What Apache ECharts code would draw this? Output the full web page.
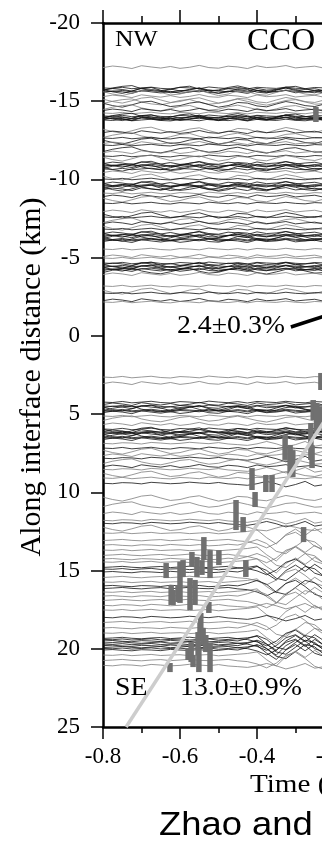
<!DOCTYPE html>
<html><head><meta charset="utf-8">
<script src="https://cdn.jsdelivr.net/npm/echarts@6.0.0/dist/echarts.min.js"></script>
<style>html,body{margin:0;padding:0;background:#fff}#c{width:322px;height:843px}</style>
</head><body><div id="c"></div><script>
// ---- data ----
const xTickLabels = ['-0.8','-0.6','-0.4','-0.2','0'];
const yTickLabels = ['-20','-15','-10','-5','0','5','10','15','20','25'];
const xGrid = [-0.8,-0.775,-0.75,-0.725,-0.7,-0.675,-0.65,-0.625,-0.6,-0.575,-0.55,-0.525,-0.5,-0.475,-0.45,-0.425,-0.4,-0.375,-0.35,-0.325,-0.3,-0.275,-0.25,-0.225,-0.2];
// wiggle offsets (km)
const wiggleA = [0,0.03,-0.04,0.05,0,-0.05,0.03,0.06,-0.03,0,0.05,-0.06,0,0.04,-0.03,0.06,-0.04,0,0.03,-0.05,0.02,0.05,-0.03,0,0.04];
const wiggleB = [0.04,-0.06,0,0.1,-0.08,0,0.07,-0.03,0.09,0.02,-0.1,0.04,0.08,-0.05,0,0.1,-0.07,0.04,0,-0.09,0.06,0,-0.05,0.08,0];
const wiggleC = [-0.05,0.1,0.2,0.05,-0.12,-0.18,0,0.16,0.1,-0.06,-0.14,0.04,0.2,0.1,-0.1,-0.06,0.12,0.18,0,-0.16,-0.05,0.1,0.16,0,-0.12];
const wiggleD = [0.1,-0.05,-0.15,-0.2,0,0.12,0.18,0.05,-0.1,-0.16,0.02,0.14,0.08,-0.08,-0.18,-0.04,0.1,0.2,0.06,-0.1,-0.15,0,0.14,0.1,-0.05];
const wiggleE = [0,0.02,-0.03,0.04,0,-0.04,0.03,0,-0.02,0.04,0,-0.03,0.05,0,-0.05,-0.1,-0.2,0.3,0.7,0.1,-0.25,0.15,-0.3,0.1,0.3];
const wiggleF = [0.03,0,-0.04,0.02,0.05,0,-0.03,0.04,0,-0.05,0.02,0.04,0,-0.04,0.05,0.1,0.25,0.5,0.2,-0.3,-0.5,-0.1,0.4,0.6,0.1];
const wiggleG = [0,-0.03,0.02,0.05,-0.02,0,0.04,-0.04,0,0.03,-0.03,0.05,0.02,-0.05,0,-0.15,-0.35,-0.1,0.4,0.55,0.1,-0.35,-0.2,0.3,0.5];
const wiggleH = [0.02,0.05,-0.02,0,0.06,-0.04,0,0.05,0.02,-0.05,0,0.04,-0.03,0.06,0.1,0.15,0.05,-0.1,0.05,0.25,0.1,-0.1,0.2,0.1,-0.15];
// traces: [distance km, wiggle, tone]
const traces = [
 [-17.19,'B','g'],
 [-15.85,'A','k'],[-15.8,'D','k'],[-15.75,'B','k'],[-15.7,'C','k'],[-15.65,'A','k'],[-15.6,'B','k'],[-15.56,'C','g'],
 [-15.33,'B','g'],
 [-15.08,'C','g'],[-14.95,'D','g'],[-14.82,'C','k'],
 [-14.57,'D','g'],[-14.44,'B','k'],[-14.25,'A','g'],
 [-14.06,'A','k'],[-14.03,'D','k'],[-14.0,'B','k'],[-13.96,'C','k'],[-13.93,'A','k'],[-13.89,'B','k'],[-13.86,'B','k'],[-13.8,'A','k'],
 [-13.16,'C','g'],[-13.03,'B','k'],
 [-12.78,'D','g'],[-12.65,'A','k'],
 [-12.46,'C','k'],[-12.33,'B','g'],[-12.2,'A','k'],
 [-11.88,'D','k'],[-11.75,'B','g'],
 [-11.5,'A','k'],[-11.37,'C','g'],
 [-11.05,'B','k'],[-10.98,'C','k'],[-10.92,'A','k'],[-10.86,'B','k'],[-10.8,'D','k'],[-10.73,'C','k'],[-10.67,'A','k'],
 [-10.48,'B','g'],
 [-10.16,'C','g'],[-10.03,'A','k'],
 [-9.77,'B','k'],[-9.7,'C','k'],[-9.64,'A','k'],[-9.58,'A','k'],[-9.52,'D','k'],[-9.45,'C','k'],[-9.39,'B','k'],
 [-9.13,'A','g'],[-8.94,'B','k'],
 [-8.75,'C','g'],[-8.49,'A','k'],
 [-7.98,'B','g'],
 [-7.73,'C','k'],[-7.6,'A','k'],
 [-7.34,'D','g'],[-7.22,'B','k'],
 [-6.96,'C','g'],[-6.83,'A','k'],
 [-6.58,'B','k'],[-6.51,'C','k'],[-6.45,'A','k'],[-6.38,'B','k'],[-6.32,'D','k'],[-6.25,'C','k'],[-6.19,'A','k'],[-6.13,'A','k'],[-6.07,'B','k'],
 [-5.55,'A','g'],
 [-5.11,'B','g'],[-4.98,'A','g'],
 [-4.66,'A','k'],[-4.6,'B','k'],[-4.53,'C','k'],[-4.47,'A','k'],[-4.4,'B','k'],[-4.34,'C','k'],[-4.28,'A','k'],[-4.22,'B','k'],[-4.15,'D','k'],
 [-3.96,'B','g'],
 [-3.19,'A','g'],
 [-2.87,'C','g'],[-2.74,'A','k'],
 [-2.29,'B','k'],[-2.17,'A','g'],
 [2.63,'A','g'],[3.01,'B','g'],
 [4.23,'A','k'],[4.35,'B','k'],
 [4.48,'A','k'],[4.55,'B','k'],[4.61,'C','k'],[4.68,'D','k'],[4.74,'A','k'],[4.8,'A','k'],[4.87,'B','k'],
 [5.12,'A','g'],[5.31,'D','g'],[5.63,'B','g'],
 [5.95,'A','k'],[6.02,'C','k'],[6.08,'B','k'],[6.14,'A','k'],[6.2,'A','k'],[6.27,'B','k'],[6.34,'C','k'],[6.4,'D','k'],[6.46,'A','k'],[6.52,'A','k'],[6.59,'B','k'],
 [6.85,'H','g'],
 [7.17,'A','k'],[7.36,'C','g'],
 [7.61,'B','g'],[7.8,'H','k'],
 [8.06,'D','g'],
 [8.32,'B','k'],[8.51,'H','g'],
 [8.83,'C','g'],[9.08,'A','g'],[9.4,'H','k'],
 [10.36,'C','g'],[10.81,'D','g'],[11.32,'B','g'],
 [11.77,'H','g'],[11.96,'H','k'],
 [12.28,'C','g'],[12.6,'E','g'],[13.05,'F','g'],[13.37,'G','g'],
 [13.69,'E','g'],[14.0,'F','g'],
 [14.26,'G','g'],[14.45,'E','g'],
 [14.77,'F','k'],[14.9,'E','k'],[15.09,'G','k'],
 [15.41,'F','g'],[15.73,'E','g'],
 [15.98,'G','k'],[16.12,'F','k'],
 [16.37,'E','g'],[16.63,'G','g'],[16.88,'F','g'],
 [17.2,'H','g'],[17.52,'E','g'],[17.97,'H','k'],
 [18.29,'F','g'],[18.67,'G','g'],[18.99,'E','g'],
 [19.31,'F','k'],[19.4,'E','k'],[19.5,'G','k'],[19.6,'F','k'],[19.7,'E','k'],[19.8,'G','k'],[19.89,'F','k'],[19.98,'E','k'],[20.08,'G','k'],
 [20.4,'E','g'],[20.72,'F','g'],[21.04,'H','g']
];
// picked arrivals: [time s, top km, bottom km]
const picks = [
 [-0.247,-14.63,-13.67],
 [-0.234,2.37,3.46],
 [-0.254,4.10,5.38],[-0.245,4.3,6.2],[-0.236,4.5,6.0],
 [-0.260,5.57,7.93],[-0.327,6.34,7.93],[-0.314,6.97,8.89],[-0.307,7.3,9.02],[-0.257,7.0,8.45],
 [-0.413,8.45,9.85],[-0.377,8.89,9.98],[-0.361,8.89,9.98],[-0.405,9.98,10.94],
 [-0.4545,10.49,12.41],[-0.436,11.58,12.54],[-0.279,12.22,13.18],
 [-0.538,12.86,14.33],[-0.569,13.81,14.77],[-0.556,14.13,15.41],[-0.543,14.33,15.28],
 [-0.522,13.69,15.48],[-0.499,13.69,14.65],[-0.429,14.33,15.41],[-0.636,14.52,15.48],
 [-0.600,14.45,17.07],[-0.592,14.33,15.41],[-0.618,16.24,17.2],[-0.574,15.48,17.52],
 [-0.561,15.6,17.2],[-0.623,15.92,17.2],[-0.605,15.92,17.01],[-0.525,17.01,17.71],
 [-0.546,17.71,18.67],[-0.548,18.35,19.44],[-0.540,18.67,19.76],[-0.553,18.93,20.4],
 [-0.533,19.12,20.21],[-0.579,19.95,20.72],[-0.571,19.57,20.85],[-0.551,20.08,21.49],
 [-0.522,19.63,21.49],[-0.626,20.91,21.49],[-0.566,20.4,21.17]
];
const seFit = [[-0.74,25],[-0.2,4.5]];
const nwFit = [[-0.312,-0.57],[-0.2,-1.46]];

// ---- chart ----
const wiggles = {A:wiggleA,B:wiggleB,C:wiggleC,D:wiggleD,E:wiggleE,F:wiggleF,G:wiggleG,H:wiggleH};
const serif = '"Liberation Serif","Times New Roman",serif';
const tones = {k:'#111111', g:'#7d7d7d'};
const series = traces.map(t => ({
  type:'line', silent:true, symbol:'none', z:2, animation:false,
  lineStyle:{width:0.8, color:tones[t[2]]},
  data: xGrid.map((x,i) => [x, t[0] + wiggles[t[1]][i]])
}));
series.push({
  type:'custom', silent:true, z:3, clip:true, encode:{x:0, y:[1,2]},
  renderItem:(params, api) => {
    const p1 = api.coord([api.value(0), api.value(1)]);
    const p2 = api.coord([api.value(0), api.value(2)]);
    return {type:'rect', shape:{x:p1[0]-2.75, y:p1[1], width:5.5, height:p2[1]-p1[1]}, style:{fill:'#707070'}};
  },
  data: picks
});
series.push({type:'line', silent:true, symbol:'none', z:4, lineStyle:{width:3.5, color:'#cdcdcd'}, data:seFit});
series.push({type:'line', silent:true, symbol:'none', z:4, lineStyle:{width:3.5, color:'#000'}, data:nwFit});

const axisLineStyle = {color:'#000', width:2.5};
const tickStyle = {color:'#000', width:1.5};
const stretch = 1.07;
const chart = echarts.init(document.getElementById('c'), null, {renderer:'canvas'});
chart.setOption({
  backgroundColor:'#fff',
  animation:false,
  grid:{left:103, top:23, height:704, width:308, containLabel:false, outerBoundsMode:'none'},
  xAxis:[
    {type:'value', position:'bottom', min:-0.8, max:0, interval:0.2,
     axisLine:{onZero:false, lineStyle:axisLineStyle},
     axisTick:{length:12, lineStyle:tickStyle},
     minorTick:{show:true, splitNumber:2, length:6, lineStyle:tickStyle},
     splitLine:{show:false}, minorSplitLine:{show:false},
     axisLabel:{margin:18, fontFamily:serif, fontSize:23, color:'#000',
       formatter:v => xTickLabels[Math.round((v+0.8)/0.2)]}},
    {type:'value', position:'top', min:-0.8, max:0, interval:0.2,
     axisLine:{onZero:false, lineStyle:axisLineStyle},
     axisTick:{length:13, lineStyle:tickStyle},
     minorTick:{show:true, splitNumber:2, length:7, lineStyle:tickStyle},
     splitLine:{show:false}, minorSplitLine:{show:false},
     axisLabel:{show:false}}
  ],
  yAxis:{type:'value', inverse:true, min:-20, max:25, interval:5,
     axisLine:{onZero:false, lineStyle:axisLineStyle},
     axisTick:{length:12, lineStyle:tickStyle},
     splitLine:{show:false},
     axisLabel:{margin:23, fontFamily:serif, fontSize:23, color:'#000',
       formatter:v => yTickLabels[Math.round((v+20)/5)]}},
  graphic:[
    {type:'text', x:115, y:40, z:10, scaleX:stretch, style:{text:'NW', font:'24px '+serif, fill:'#000', align:'left', verticalAlign:'middle'}},
    {type:'text', x:247, y:42, z:10, scaleX:stretch, style:{text:'CCO', font:'31px '+serif, fill:'#000', align:'left', verticalAlign:'middle'}},
    {type:'text', x:177, y:326, z:10, scaleX:stretch, style:{text:'2.4±0.3%', font:'26px '+serif, fill:'#000', align:'left', verticalAlign:'middle'}},
    {type:'text', x:115, y:688, z:10, scaleX:stretch, style:{text:'SE', font:'26px '+serif, fill:'#000', align:'left', verticalAlign:'middle'}},
    {type:'text', x:180, y:688, z:10, scaleX:stretch, style:{text:'13.0±0.9%', font:'26px '+serif, fill:'#000', align:'left', verticalAlign:'middle'}},
    {type:'text', x:250, y:785, z:10, scaleX:1.12, style:{text:'Time (s)', font:'26px '+serif, fill:'#000', align:'left', verticalAlign:'middle'}},
    {type:'text', x:32, y:377, rotation:Math.PI/2, z:10, style:{text:'Along interface distance (km)', font:'30px '+serif, fill:'#000', align:'center', verticalAlign:'middle'}},
    {type:'text', x:159, y:826, z:10, scaleX:stretch, style:{text:'Zhao and', font:'34px "Liberation Sans",Arial,sans-serif', fill:'#000', align:'left', verticalAlign:'middle'}}
  ],
  series: series
});
</script></body></html>
